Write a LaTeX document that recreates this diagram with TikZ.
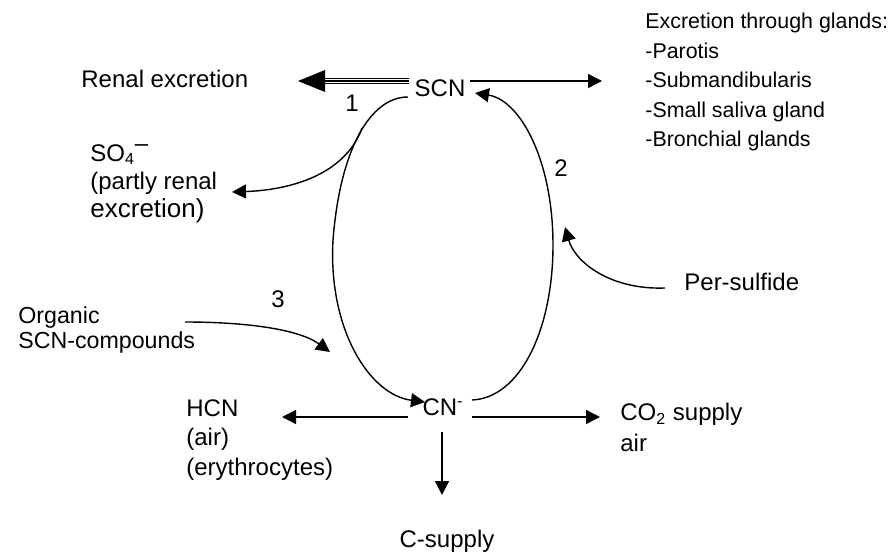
\documentclass[tikz,border=0pt]{standalone}
\usepackage{fontspec}
\setmainfont{Liberation Sans}
\usetikzlibrary{arrows.meta}
\begin{document}
\begin{tikzpicture}[x=0.5pt,y=-0.5pt,
  font=\fontsize{12}{14.75}\selectfont,
  arr/.style={line width=0.7pt,-{Triangle[length=7pt,width=7pt]}},
  lbl/.style={inner sep=0pt,align=left,anchor=north west},
  num/.style={inner sep=0pt}]
\useasboundingbox (0,0) rectangle (891,552);
% main nodes
\node[inner sep=1pt] (scn) at (440,88) {SCN};
\node[inner sep=1pt] (cn) at (443,407) {CN\textsuperscript{-}};
% text nodes
\node[inner sep=0pt,anchor=west] (renal) at (81,79) {Renal excretion};
\node[lbl,font=\fontsize{10.7}{14.75}\selectfont] (glands) at (645,13) {Excretion through glands:\\-Parotis\\-Submandibularis\\-Small saliva gland\\-Bronchial glands};
\node[lbl,font=\fontsize{12}{14}\selectfont] (so4) at (90,144) {SO\textsubscript{4}\raisebox{0.42em}{–}\\(partly renal\\{\fontsize{13}{13}\selectfont excretion)}};
\node[inner sep=0pt,anchor=west] (persulf) at (684,282) {Per-sulfide};
\node[lbl,font=\fontsize{11.6}{12.5}\selectfont] (organic) at (18,306) {Organic\\SCN-compounds};
\node[lbl] (hcn) at (186,399) {HCN\\(air)\\(erythrocytes)};
\node[lbl,font=\fontsize{12}{15.5}\selectfont] (co2) at (620,403) {CO\textsubscript{2} supply\\air};
\node[inner sep=0pt] (csup) at (447,541) {C-supply};
\node[num] (n1) at (352,103) {1};
\node[num] (n2) at (561,168) {2};
\node[num] (n3) at (278,299) {3};
% free ends
\coordinate (renaltip) at (298,81);
\coordinate (glandtip) at (602,81);
\coordinate (so4start) at (362,128);
\coordinate (so4tip) at (232,192);
\coordinate (perstart) at (665,288);
\coordinate (pertip) at (565,227);
\coordinate (orgstart) at (185,322);
\coordinate (orgtip) at (330,352);
\coordinate (hcntip) at (282,417);
\coordinate (co2tip) at (600,417);
\coordinate (ctip) at (442,495);
\coordinate (leftmid) at (333,240);
\coordinate (rightmid) at (553,245);
% triple arrow to renal excretion
\draw[line width=3.4pt] (409,81) -- (322,81);
\draw[white,line width=2.2pt] (410,81) -- (321,81);
\draw[line width=0.6pt] (409,81) -- (322,81);
\fill (renaltip) -- (325,70) -- (325,92) -- cycle;
% arrow to glands
\draw[arr] (470,81) -- (glandtip);
% loop
\draw[arr] (408,97) .. controls (370,97) and (340,150) .. (leftmid)
  .. controls (328,330) and (370,395) .. (425,402);
\draw[arr] (472,400) .. controls (520,398) and (553,330) .. (rightmid)
  .. controls (553,160) and (520,100) .. (475,93);
% side arrows
\draw[arr] (so4start) .. controls (345,175) and (290,190) .. (so4tip);
\draw[arr] (perstart) .. controls (610,290) and (575,262) .. (pertip);
\draw[arr] (orgstart) .. controls (250,322) and (300,330) .. (orgtip);
\draw[arr] (408,417) -- (hcntip);
\draw[arr] (472,417) -- (co2tip);
\draw[arr] (442,432) -- (ctip);
\end{tikzpicture}
\end{document}
